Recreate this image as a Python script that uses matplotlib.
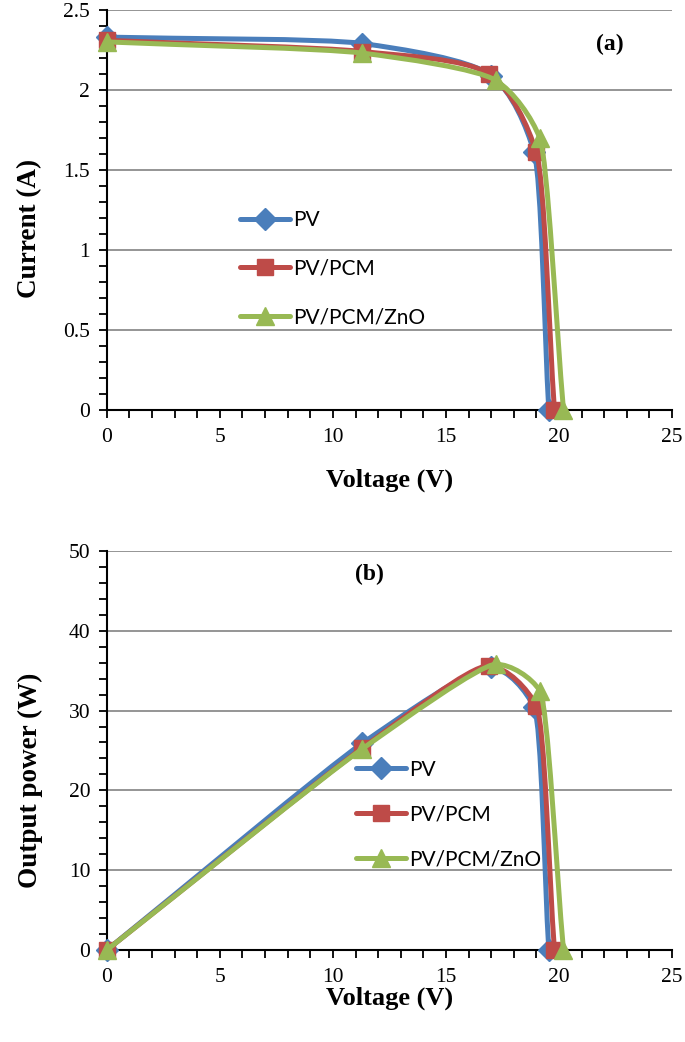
import matplotlib
matplotlib.use('Agg')
import numpy as np
import matplotlib.pyplot as plt
from matplotlib.path import Path
from matplotlib.patches import PathPatch
from matplotlib.lines import Line2D
from matplotlib.ticker import MultipleLocator, FormatStrFormatter

# datos
series = ['PV', 'PV/PCM', 'PV/PCM/ZnO']
V_pv = [0, 11.3, 17.0, 18.9, 19.55]
V_pcm = [0, 11.3, 16.9, 19.0, 19.8]
V_zno = [0, 11.3, 17.2, 19.15, 20.2]
I_pv = [2.33, 2.29, 2.09, 1.61, 0]
I_pcm = [2.31, 2.24, 2.10, 1.61, 0]
I_zno = [2.30, 2.23, 2.06, 1.70, 0]
P_pv = [0, 25.9, 35.4, 30.4, 0]
P_pcm = [0, 25.3, 35.6, 30.6, 0]
P_zno = [0, 25.2, 35.8, 32.5, 0]

colores = ['#4A7EBB', '#BE4B48', '#98B954']
marcadores = ['D', 's', '^']
tam_marc = [11, 12, 13]

serif = 'Liberation Serif'
sans = 'Lato'


def curva_suave(ax, x, y, color, z, k=0.3):
    '''
    Linea suavizada tipo Excel: bezier con tangentes calculadas en pixeles.
    '''
    tr = ax.transData
    P = tr.transform(np.column_stack([x, y]))
    n = len(P)
    seg = [P[i + 1] - P[i] for i in range(n - 1)]
    L = [np.hypot(*s) for s in seg]
    tang = []
    for i in range(n):
        if i == 0:
            d = seg[0] / L[0]
        elif i == n - 1:
            d = seg[-1] / L[-1]
        else:
            d = seg[i - 1] / L[i - 1] + seg[i] / L[i]
            d = d / np.hypot(*d)
        tang.append(d)
    verts = [P[0]]
    codes = [Path.MOVETO]
    for i in range(n - 1):
        l1 = L[i] if i == 0 else min(L[i], L[i - 1])
        l2 = L[i] if i == n - 2 else min(L[i], L[i + 1])
        c1 = P[i] + tang[i] * l1 * k
        c2 = P[i + 1] - tang[i + 1] * l2 * k
        verts += [c1, c2, P[i + 1]]
        codes += [Path.CURVE4] * 3
    verts = tr.inverted().transform(np.array(verts))
    patch = PathPatch(Path(verts, codes), facecolor='none', edgecolor=color,
                      lw=3.6, capstyle='round', joinstyle='round',
                      transform=ax.transData, zorder=z)
    patch.set_clip_on(False)
    ax.add_patch(patch)


def panel(ax, X, Y, ylim, ymaj, ymin, ylabel, letra, pos_letra, pos_leg,
          espacio, pos_xlab, pos_ylab):
    ax.set_xlim(0, 25)
    ax.set_ylim(0, ylim)
    for k in range(3):
        curva_suave(ax, X[k], Y[k], colores[k], 3 + 2 * k)
        ax.plot(X[k], Y[k], ls='none', marker=marcadores[k], ms=tam_marc[k],
                color=colores[k], mec=colores[k], zorder=4 + 2 * k, clip_on=False)
    ax.xaxis.set_major_locator(MultipleLocator(5))
    ax.xaxis.set_minor_locator(MultipleLocator(1))
    ax.yaxis.set_major_locator(MultipleLocator(ymaj))
    ax.yaxis.set_minor_locator(MultipleLocator(ymin))
    ax.yaxis.set_major_formatter(FormatStrFormatter('%g'))
    ax.grid(axis='y', which='major', color='#8c8c8c', lw=1.3, zorder=0)
    ax.set_axisbelow(True)
    for s in ['top', 'right']:
        ax.spines[s].set_visible(False)
    for s in ['left', 'bottom']:
        ax.spines[s].set_linewidth(1.5)
    ax.tick_params(which='both', direction='out', length=6, width=1.3,
                   labelsize=15.5)
    ax.tick_params(axis='x', pad=7)
    ax.tick_params(axis='y', pad=6)
    for t in ax.get_xticklabels() + ax.get_yticklabels():
        t.set_fontfamily(serif)
    ax.set_xlabel('Voltage (V)', fontfamily=serif, fontweight='bold', fontsize=19)
    ax.set_ylabel(ylabel, fontfamily=serif, fontweight='bold', fontsize=19.5)
    ax.xaxis.set_label_coords(0.5, pos_xlab)
    ax.xaxis.label.set_va('center')
    ax.yaxis.set_label_coords(-0.136, pos_ylab)
    ax.yaxis.label.set_va('center')
    ax.text(pos_letra[0], pos_letra[1], letra, transform=ax.transAxes,
            fontfamily=serif, fontweight='bold', fontsize=17,
            ha='center', va='center')
    handles = [Line2D([], [], color=colores[k], lw=3.6, marker=marcadores[k],
                      ms=tam_marc[k], solid_capstyle='round')
               for k in range(3)]
    ax.legend(handles, series, loc='upper left', bbox_to_anchor=pos_leg,
              frameon=False, prop={'family': sans, 'size': 15},
              handlelength=2.4, handletextpad=0.15, labelspacing=espacio,
              borderpad=0, borderaxespad=0, numpoints=1)


fig = plt.figure(figsize=(6.85, 10.42), dpi=100)
ax1 = fig.add_axes([0.156, 0.6065, 0.825, 0.384])
ax2 = fig.add_axes([0.156, 0.0883, 0.825, 0.383])

panel(ax1, [V_pv, V_pcm, V_zno], [I_pv, I_pcm, I_zno], 2.5, 0.5, 0.1,
      'Current (A)', '(a)', (0.89, 0.9125), (0.235, 0.50), 1.38,
      -0.175, 0.455)
panel(ax2, [V_pv, V_pcm, V_zno], [P_pv, P_pcm, P_zno], 50, 10, 2,
      'Output power (W)', '(b)', (0.465, 0.94), (0.44, 0.477), 1.19,
      -0.122, 0.426)

fig.savefig('out.png', dpi=100)
